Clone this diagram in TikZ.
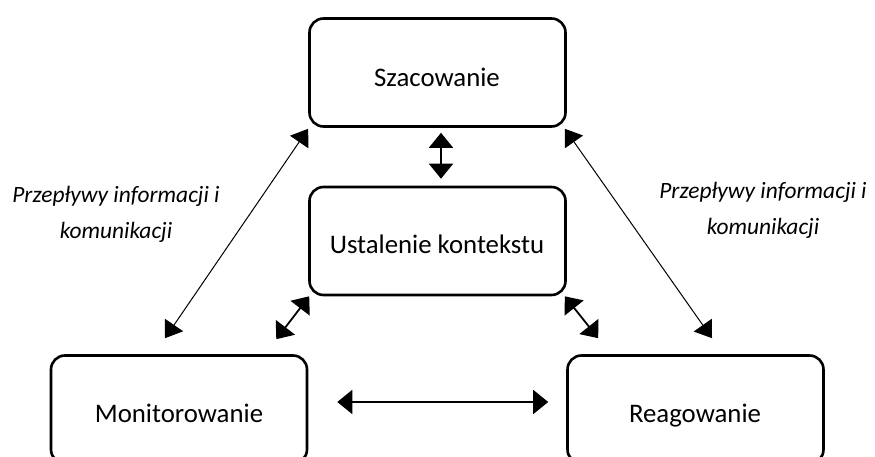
\documentclass[tikz,border=0pt]{standalone}
\usepackage{fontspec}
\setmainfont{Carlito}
\usetikzlibrary{arrows.meta}
\begin{document}
\begin{tikzpicture}[x=1pt,y=-1pt,
  stage/.style={draw, line width=2.6pt, rounded corners=14pt,
    minimum width=256pt, minimum height=108pt, inner sep=0pt},
  stagetext/.style={font=\fontsize{26.8}{32}\selectfont, inner sep=0pt, anchor=base},
  flowlabel/.style={font=\fontsize{23.4}{36}\selectfont\itshape, align=center, inner sep=0pt},
  link/.style={{Triangle[length=15pt,width=24pt]}-{Triangle[length=15pt,width=24pt]}, line width=1.8pt},
  flow/.style={{Triangle[length=16pt,width=22pt]}-{Triangle[length=16pt,width=22pt]}, line width=1pt},
]
\clip (0,0) rectangle (875,457);

% process stages
\node[stage] (sz) at (437.5,72.5) {};
\node[stage] (us) at (437.5,241) {};
\node[stage] (mo) at (179,409.5) {};
\node[stage] (re) at (695.5,409.5) {};

\node[stagetext] (szt) at (437,87) {Szacowanie};
\node[stagetext] (ust) at (437,253) {Ustalenie kontekstu};
\node[stagetext] (mot) at (179,422.7) {Monitorowanie};
\node[stagetext] (ret) at (695,422.7) {Reagowanie};

% links between stages
\draw[link] ([shift={(3.5,5)}]sz.south) -- ([shift={(3.5,-7)}]us.north);
\draw[link] ([shift={(29,-7.5)}]mo.east) -- ([shift={(-18,-7.5)}]re.west);
\draw[link] ([shift={(1,0)}]us.south west) -- ([shift={(-32,-15)}]mo.north east);
\draw[link] ([shift={(-2,0)}]us.south east) -- ([shift={(32,-16)}]re.north west);

% information and communication flows
\draw[flow] ([shift={(0,1)}]sz.south west) -- ([shift={(-14,-16)}]mo.north);
\draw[flow] ([shift={(-2,1)}]sz.south east) -- ([shift={(16.5,-16)}]re.north);

\node[flowlabel] (fl) at (116,214) {Przepływy informacji i\\komunikacji};
\node[flowlabel] (fr) at (763,210) {Przepływy informacji i\\komunikacji};
\end{tikzpicture}
\end{document}
